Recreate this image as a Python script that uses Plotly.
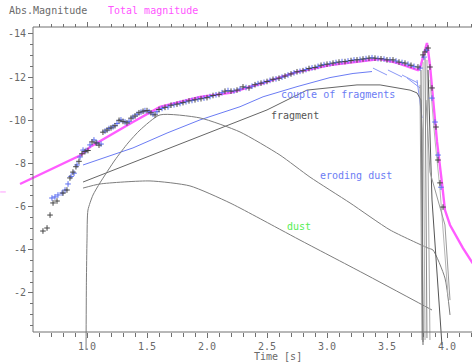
import plotly.graph_objects as go

# ---------------- data (time [s], absolute magnitude) ----------------
t_total = [0.442, 0.95, 1.025, 1.192, 1.383, 1.608, 1.942, 2.192, 2.467, 2.75, 3.025, 3.3, 3.442,
           3.583, 3.692, 3.758, 3.775, 3.833, 3.842, 3.858, 3.883, 3.917, 3.958, 3.983, 4.025,
           4.083, 4.133, 4.208, 4.275]
m_total = [-7.05, -8.39, -8.76, -9.32, -9.92, -10.62, -11.08, -11.27, -11.73, -12.24, -12.56, -12.75, -12.84,
           -12.66, -12.47, -12.33, -12.42, -13.58, -13.26, -12.56, -11.03, -9.0, -7.10, -5.84, -5.15,
           -4.59, -4.08, -3.43, -2.88]
t_total_stray = [0.30]
m_total_stray = [-6.68]

t_obs_a = [0.633, 0.667, 0.692, 0.717, 0.75, 0.8, 0.833, 0.858, 0.883, 0.908, 0.933, 0.958, 0.983,
           1.008, 1.042, 1.075, 1.1, 1.133, 1.167, 1.2, 1.233, 1.267, 1.3, 1.333, 1.367, 1.4, 1.433,
           1.467, 1.5, 1.533, 1.567, 1.6, 1.65, 1.7, 1.75, 1.8, 1.85, 1.9, 1.95, 2.0, 2.05, 2.1, 2.15,
           2.2, 2.25, 2.3, 2.35, 2.4, 2.45, 2.5, 2.55, 2.6, 2.65, 2.7, 2.75, 2.8, 2.85, 2.9, 2.95, 3.0,
           3.05, 3.1, 3.15, 3.2, 3.25, 3.3, 3.35, 3.4, 3.45, 3.5, 3.55, 3.6, 3.65, 3.7, 3.758, 3.8,
           3.817, 3.842, 3.858, 3.875, 3.908, 3.925, 3.942, 3.967]
m_obs_a = [-4.87, -5.01, -5.61, -6.17, -6.26, -6.63, -6.77, -7.33, -7.6, -7.85, -8.1, -8.45, -8.55,
           -8.6, -9.0, -8.95, -8.85, -9.45, -9.55, -9.65, -9.75, -10.0, -9.95, -9.88, -10.1, -10.2, -10.35,
           -10.42, -10.45, -10.35, -10.25, -10.5, -10.6, -10.7, -10.75, -10.82, -10.9, -10.95, -11.0, -11.05,
           -11.15, -11.2, -11.35, -11.35, -11.4, -11.55, -11.5, -11.65, -11.72, -11.8, -11.9, -11.95,
           -12.05, -12.15, -12.25, -12.3, -12.4, -12.45, -12.55, -12.6, -12.65, -12.7, -12.72, -12.77,
           -12.8, -12.84, -12.88, -12.88, -12.85, -12.8, -12.8, -12.7, -12.65, -12.55, -12.47, -13.03,
           -13.17, -13.35, -12.47, -11.5, -9.69, -8.16, -7.1, -5.98]

t_obs_b = [0.708, 0.733, 0.758, 0.792, 0.817, 0.842, 0.867, 0.892, 0.917, 0.942, 0.967, 0.992,
           1.025, 1.058, 1.083, 1.117, 1.15, 1.183, 1.217, 1.25, 1.283, 1.317, 1.35, 1.383, 1.417,
           1.45, 1.483, 1.517, 1.55, 1.583, 1.625, 1.675, 1.725, 1.775, 1.825, 1.875, 1.925, 1.975,
           2.025, 2.075, 2.125, 2.175, 2.225, 2.275, 2.325, 2.375, 2.425, 2.475, 2.525, 2.575, 2.625,
           2.675, 2.725, 2.775, 2.825, 2.875, 2.925, 2.975, 3.025, 3.075, 3.125, 3.175, 3.225, 3.275,
           3.325, 3.375, 3.425, 3.475, 3.525, 3.575, 3.625, 3.675, 3.725, 3.775, 3.808, 3.83, 3.875,
           3.9, 3.925, 3.95]
m_obs_b = [-6.4, -6.45, -6.54, -6.63, -6.77, -7.05, -7.4, -7.55, -7.93, -8.3, -8.62, -8.6,
           -8.86, -9.09, -8.95, -8.9, -9.5, -9.62, -9.7, -9.85, -10.02, -9.92, -9.95, -10.15, -10.28,
           -10.38, -10.45, -10.4, -10.28, -10.4, -10.55, -10.62, -10.72, -10.78, -10.86, -10.92, -10.98,
           -11.03, -11.1, -11.18, -11.28, -11.38, -11.36, -11.45, -11.52, -11.58, -11.7, -11.76, -11.85,
           -11.92, -12.0, -12.1, -12.2, -12.27, -12.35, -12.43, -12.5, -12.58, -12.62, -12.68, -12.72,
           -12.75, -12.8, -12.82, -12.86, -12.9, -12.86, -12.84, -12.8, -12.75, -12.68, -12.6, -12.5,
           -12.42, -12.93, -13.25, -11.03, -9.92, -8.39, -6.9]

t_couple = [0.967, 1.383, 1.667, 1.942, 2.275, 2.467, 2.75, 3.025, 3.217, 3.375]
m_couple = [-7.93, -8.72, -9.41, -10.02, -10.63, -11.09, -11.56, -11.98, -12.17, -12.26]
couple_pieces = [
    ([3.383, 3.5], [-12.42, -12.10]),
    ([3.508, 3.625], [-12.33, -12.01]),
    ([3.625, 3.758], [-12.10, -11.73]),
    ([3.667, 3.775], [-11.96, -11.50]),
    ([3.75, 3.792], [-11.87, -10.11]),
]

t_fragment = [0.967, 2.275, 2.5, 2.833, 3.25, 3.442, 3.692, 3.75, 3.783, 3.792, 3.8]
m_fragment = [-7.14, -10.01, -10.48, -11.40, -11.64, -11.64, -11.40, -11.27, -10.94, -9.55, 0.41]

t_eroding = [0.992, 0.995, 1.0, 1.008, 1.05, 1.108, 1.233, 1.342, 1.442, 1.608, 1.942, 2.275,
             2.608, 2.858, 3.192, 3.525, 3.842, 3.883, 3.983, 4.025]
m_eroding = [0.64, -2.5, -4.45, -5.84, -6.54, -7.10, -8.16, -8.95, -9.55, -10.25, -10.11, -9.46,
             -8.39, -7.37, -6.17, -4.92, -4.08, -3.99, -2.69, -0.98]

t_dust = [0.967, 1.108, 1.525, 1.858, 2.192, 2.617, 2.775, 3.3, 3.875]
m_dust = [-6.86, -7.05, -7.19, -6.96, -6.17, -4.92, -4.45, -2.92, -1.21]

drops = [
    ([3.775, 3.792], [-11.64, 0.18], "#9a9a9a"),
    ([3.783, 3.8], [-12.33, 0.27], "#777777"),
    ([3.8, 3.817], [-12.70, 0.18], "#b0b0b0"),
    ([3.817, 3.833], [-12.89, 0.09], "#888888"),
    ([3.833, 3.858], [-12.80, 0.18], "#a8a8a8"),
    ([3.842, 3.875, 3.958], [-12.33, -6.31, 0.41], "#555555"),
    ([3.858, 3.9, 3.942, 4.008], [-11.87, -9.09, -6.77, -1.91], "#b5b5b5"),
    ([3.825, 3.858, 3.983, 4.025], [-10.94, -7.61, -5.15, -1.67], "#999999"),
]

x_major = [1.0, 1.5, 2.0, 2.5, 3.0, 3.5, 4.0]
x_major_text = ["1.0", "1.5", "2.0", "2.5", "3.0", "3.5", "4.0"]
x_minor = [0.6, 0.7, 0.8, 0.9, 1.1, 1.2, 1.3, 1.4, 1.6, 1.7, 1.8, 1.9, 2.1, 2.2, 2.3, 2.4,
           2.6, 2.7, 2.8, 2.9, 3.1, 3.2, 3.3, 3.4, 3.6, 3.7, 3.8, 3.9, 4.1, 4.2]
y_major = [-14, -12, -10, -8, -6, -4, -2]
y_major_text = ["-14", "-12", "-10", "-8", "-6", "-4", "-2"]
y_minor = [-13.5, -13, -12.5, -11.5, -11, -10.5, -9.5, -9, -8.5, -7.5, -7, -6.5, -5.5, -5,
           -4.5, -3.5, -3, -2.5, -1.5, -1, -0.5]

# ---------------- geometry ----------------
W, H = 472, 364
MT, MB = 27, 4
PH = H - MT - MB
x_range = [0.275, 4.2083]
y_range = [1.107, -14.324]
frame_left = 33 / W
frame_bottom = (H - MB - 332) / PH

def px(x):
    return x / W

def py(y):
    return (H - MB - y) / PH

AX = "#707070"
TXT = "#6a6a6a"
FONT = "DejaVu Sans Mono"
BLUE = "#6b7cf4"
GRAY = "#7d7d7d"

fig = go.Figure()

fig.add_trace(go.Scatter(x=t_total, y=m_total, mode="lines",
                         line=dict(color="#ff5cff", width=2.4), showlegend=False))
fig.add_trace(go.Scatter(x=t_total_stray, y=m_total_stray, mode="markers",
                         marker=dict(symbol="line-ew", size=4, line=dict(color="#ff9cff", width=1)),
                         showlegend=False))

fig.add_trace(go.Scatter(x=t_couple, y=m_couple, mode="lines",
                         line=dict(color=BLUE, width=1), showlegend=False))
for tx, my in couple_pieces:
    fig.add_trace(go.Scatter(x=tx, y=my, mode="lines",
                             line=dict(color="#8a98f6", width=1), showlegend=False))

fig.add_trace(go.Scatter(x=t_fragment, y=m_fragment, mode="lines",
                         line=dict(color="#666666", width=1), showlegend=False))
fig.add_trace(go.Scatter(x=t_eroding, y=m_eroding, mode="lines", line_shape="spline",
                         line=dict(color=GRAY, width=1, smoothing=0.6), showlegend=False))
fig.add_trace(go.Scatter(x=t_dust, y=m_dust, mode="lines", line_shape="spline",
                         line=dict(color=GRAY, width=1, smoothing=0.6), showlegend=False))
for tx, my, c in drops:
    fig.add_trace(go.Scatter(x=tx, y=my, mode="lines",
                             line=dict(color=c, width=1), showlegend=False))

fig.add_trace(go.Scatter(x=t_obs_b, y=m_obs_b, mode="markers",
                         marker=dict(symbol="cross-thin", size=4, line=dict(color="#5a6cf0", width=1)),
                         showlegend=False))
fig.add_trace(go.Scatter(x=t_obs_a, y=m_obs_a, mode="markers",
                         marker=dict(symbol="cross-thin", size=4, line=dict(color="#444444", width=1)),
                         showlegend=False))

# invisible trace so the top tick axis is drawn
fig.add_trace(go.Scatter(x=t_total[:1], y=m_total[:1], xaxis="x2", mode="markers",
                         marker=dict(opacity=0), showlegend=False, hoverinfo="skip"))

tickfont = dict(family=FONT, size=10, color=TXT)
fig.update_layout(
    width=W, height=H, autosize=False,
    margin=dict(l=0, r=0, t=MT, b=MB, pad=0, autoexpand=False),
    paper_bgcolor="white", plot_bgcolor="white",
    showlegend=False,
    xaxis=dict(range=x_range, anchor="free", position=frame_bottom, domain=[0, 1],
               automargin=False,
               showline=False, showgrid=False, zeroline=False,
               tickmode="array", tickvals=x_major, ticktext=x_major_text,
               ticks="outside", ticklen=5, tickcolor=AX, tickwidth=1, tickfont=tickfont,
               minor=dict(tickmode="array", tickvals=x_minor, ticks="outside", ticklen=4,
                          tickcolor=AX, tickwidth=1, showgrid=False)),
    xaxis2=dict(range=x_range, overlaying="x", side="top", anchor="free", position=1,
                automargin=False,
                showline=False, showgrid=False, zeroline=False, showticklabels=False,
                tickmode="array", tickvals=x_major, ticks="outside", ticklen=5,
                tickcolor=AX, tickwidth=1,
                minor=dict(tickmode="array", tickvals=x_minor, ticks="outside", ticklen=3,
                           tickcolor=AX, tickwidth=1, showgrid=False)),
    yaxis=dict(range=y_range, anchor="free", position=frame_left, domain=[0, 1],
               automargin=False,
               showline=False, showgrid=False, zeroline=False,
               tickmode="array", tickvals=y_major, ticktext=y_major_text,
               ticks="outside", ticklen=5, tickcolor=AX, tickwidth=1, tickfont=tickfont,
               minor=dict(tickmode="array", tickvals=y_minor, ticks="outside", ticklen=3,
                          tickcolor=AX, tickwidth=1, showgrid=False)),
    shapes=[
        dict(type="line", xref="paper", yref="paper", x0=frame_left, x1=1.01,
             y0=frame_bottom, y1=frame_bottom, line=dict(color=AX, width=1)),
        dict(type="line", xref="paper", yref="paper", x0=frame_left, x1=1.01,
             y0=1, y1=1, line=dict(color=AX, width=1)),
        dict(type="line", xref="paper", yref="paper", x0=frame_left, x1=frame_left,
             y0=frame_bottom, y1=1, line=dict(color=AX, width=1)),
    ],
)

def label(text, x, y, color, anchor="left"):
    fig.add_annotation(text=text, x=px(x), y=py(y), xref="paper", yref="paper",
                       xanchor=anchor, yanchor="middle", showarrow=False,
                       font=dict(family=FONT, size=10, color=color))

label("Abs.Magnitude", 7, 11, TXT)
label("Total magnitude", 106, 11, "#ff55ff")
label("Time [s]", 252, 356, TXT)
label("couple of fragments", 279, 95, BLUE)
label("fragment", 269, 115, "#555555")
label("eroding dust", 318, 175, BLUE)
label("dust", 285, 226, "#55ee55")

fig.write_html("out.html", config={"displayModeBar": False},
               post_script="document.body.style.margin='0';document.body.style.overflow='hidden';")
